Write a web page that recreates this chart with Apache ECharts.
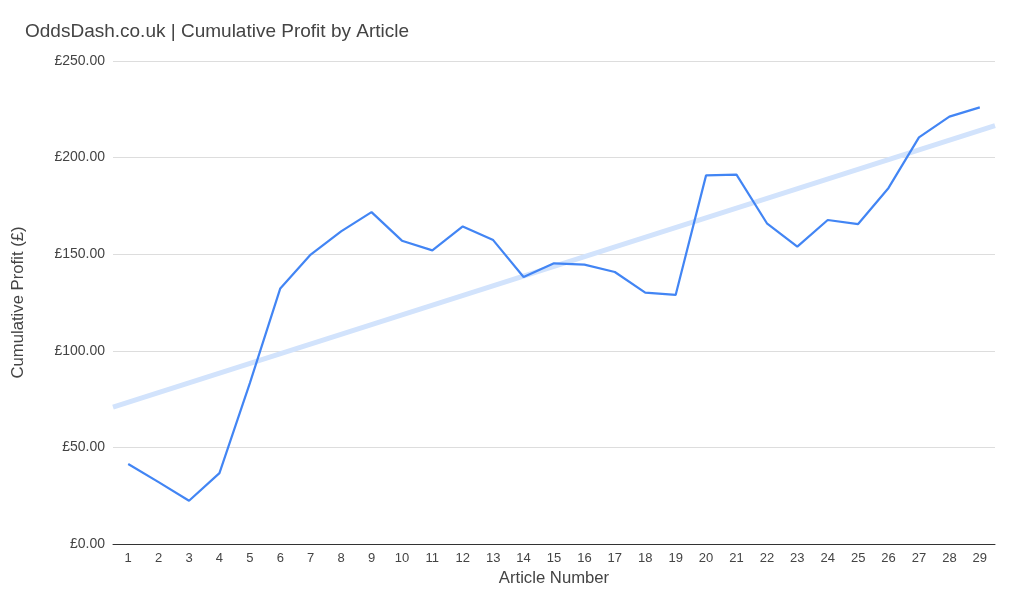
<!DOCTYPE html>
<html>
<head>
<meta charset="utf-8">
<script src="https://cdn.jsdelivr.net/npm/echarts@6/dist/echarts.min.js"></script>
<style>
html,body{margin:0;padding:0;background:#fff;overflow:hidden;}
#chart{width:1022px;height:593px;}
</style>
</head>
<body>
<div id="chart"></div>
<script>
const categories = ['1','2','3','4','5','6','7','8','9','10','11','12','13','14','15','16','17','18','19','20','21','22','23','24','25','26','27','28','29'];
const profit = [41.4, 32.0, 22.4, 36.7, 83.3, 132.3, 149.8, 161.8, 171.8, 157.0, 152.0, 164.4, 157.3, 138.2, 145.3, 144.6, 140.8, 130.1, 128.9, 190.8, 191.2, 166.0, 153.9, 167.7, 165.6, 184.3, 210.5, 221.2, 226.0];
const yTicks = [0, 50, 100, 150, 200, 250];

// linear regression trendline from the data
const n = profit.length;
let sx = 0, sy = 0, sxy = 0, sxx = 0;
profit.forEach((v, i) => { const x = i + 1; sx += x; sy += v; sxy += x * v; sxx += x * x; });
const slope = (n * sxy - sx * sy) / (n * sxx - sx * sx);
const intercept = (sy - slope * sx) / n;
const trend = [[0.5, intercept + slope * 0.5], [n + 0.5, intercept + slope * (n + 0.5)]];

const chart = echarts.init(document.getElementById('chart'), null, {renderer: 'canvas'});
const font = '"Liberation Sans", Arial, sans-serif';
chart.setOption({
  animation: false,
  backgroundColor: '#ffffff',
  title: {
    text: 'OddsDash.co.uk | Cumulative Profit by Article',
    left: 20, top: 17,
    textStyle: {fontFamily: font, fontSize: 19, fontWeight: 'normal', color: '#444444'}
  },
  grid: {left: 113, right: 27, top: 61, bottom: 49, containLabel: false, outerBoundsMode: 'none'},
  xAxis: [{
    type: 'category',
    data: categories,
    boundaryGap: true,
    name: 'Article Number',
    nameLocation: 'middle',
    nameGap: 26,
    nameTextStyle: {fontFamily: font, fontSize: 16.7, color: '#444444'},
    axisLine: {lineStyle: {color: '#333333', width: 1}},
    axisTick: {show: false},
    axisLabel: {fontFamily: font, fontSize: 13, color: '#444444', margin: 8, interval: 0},
    splitLine: {show: false}
  }, {
    type: 'value',
    min: 0.5, max: n + 0.5,
    show: false
  }],
  yAxis: {
    type: 'value',
    min: yTicks[0], max: yTicks[yTicks.length - 1], interval: 50,
    name: 'Cumulative Profit (£)',
    nameLocation: 'middle',
    nameGap: 86,
    nameRotate: 90,
    nameTextStyle: {fontFamily: font, fontSize: 16.7, color: '#444444'},
    axisLine: {show: false},
    axisTick: {show: false},
    axisLabel: {fontFamily: font, fontSize: 14, color: '#444444', margin: 8,
      formatter: v => '£' + v.toFixed(2)},
    splitLine: {lineStyle: {color: '#dddddd', width: 1}}
  },
  series: [{
    type: 'line',
    xAxisIndex: 1,
    data: trend,
    symbol: 'none',
    silent: true,
    z: 1,
    lineStyle: {color: '#d2e3fc', width: 5}
  }, {
    type: 'line',
    xAxisIndex: 0,
    data: profit,
    symbol: 'none',
    z: 3,
    lineStyle: {color: '#4285f4', width: 2.2}
  }]
});
</script>
</body>
</html>
